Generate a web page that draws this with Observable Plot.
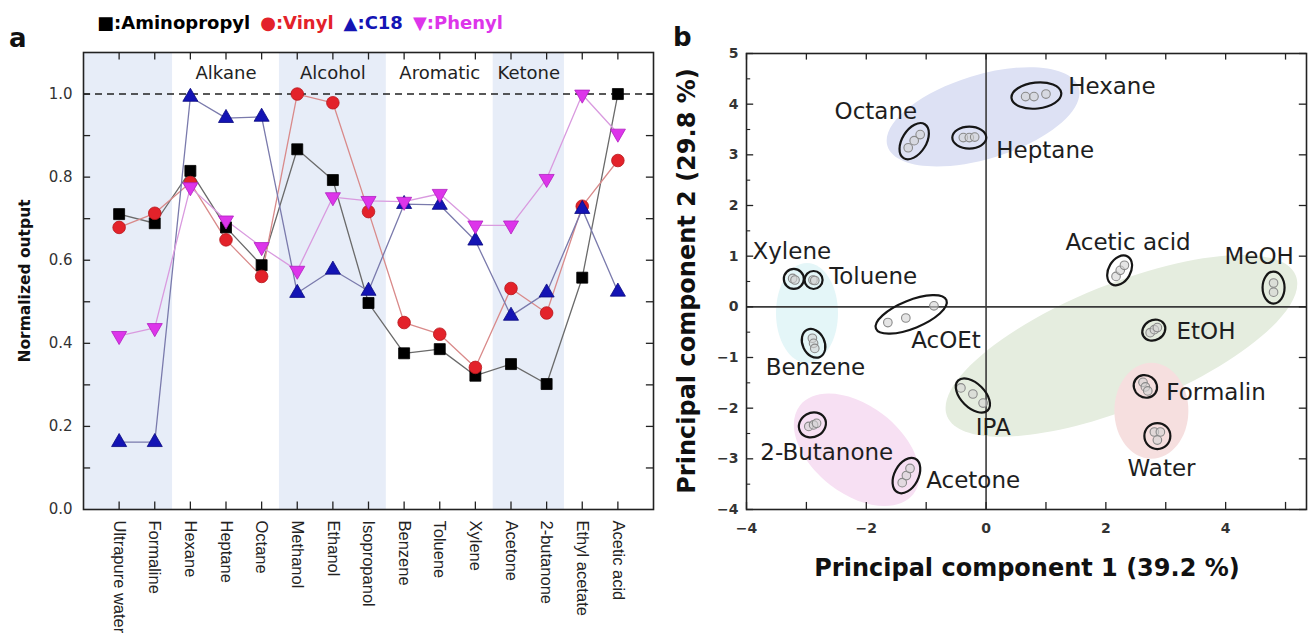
<!DOCTYPE html>
<html>
<head>
<meta charset="utf-8">
<script src="https://cdn.jsdelivr.net/npm/d3@7"></script>
<script src="https://cdn.jsdelivr.net/npm/@observablehq/plot@0.6"></script>
<style>
  body { margin: 0; background: #fff; font-family: "DejaVu Sans", sans-serif; }
  #wrap { position: relative; width: 1308px; height: 643px; overflow: hidden; background: #fff; }
  .abs { position: absolute; white-space: nowrap; }
  .panel { position: absolute; top: 0; }
  .lbl { font-weight: bold; color: #111; line-height: 1; }
  .rot { transform: translate(-50%, -50%) rotate(-90deg); }
  #legend { left: 97px; top: 14px; font-size: 18px; font-weight: bold; line-height: 1; }
  #legend span { margin-right: 10px; }
</style>
</head>
<body>
<div id="wrap">
  <div id="panelA" class="panel" style="left:0"></div>
  <div id="panelB" class="panel" style="left:660px"></div>
  <div class="abs lbl" style="left:9px; top:25px; font-size:26px;">a</div>
  <div class="abs lbl" style="left:673px; top:24px; font-size:26px;">b</div>
  <div id="legend" class="abs"></div>
  <div class="abs lbl rot" style="left:26px; top:281px; font-size:15.5px;">Normalized output</div>
  <div class="abs lbl rot" style="left:687px; top:281px; font-size:24px;">Principal component 2 (29.8 %)</div>
  <div class="abs lbl" style="left:1027px; top:568px; font-size:24px; transform: translate(-50%, -50%);">Principal component 1 (39.2 %)</div>
</div>
<script>
// ---------------- Panel a data ----------------
const solvents = ["Ultrapure water","Formaline","Hexane","Heptane","Octane","Methanol","Ethanol","Isopropanol","Benzene","Toluene","Xylene","Acetone","2-butanone","Ethyl acetate","Acetic acid"];
const aminopropyl = [0.711,0.689,0.815,0.679,0.588,0.867,0.793,0.497,0.376,0.386,0.322,0.350,0.302,0.558,1.000];
const vinyl       = [0.679,0.713,0.787,0.649,0.561,1.000,0.979,0.717,0.450,0.422,0.342,0.532,0.473,0.730,0.840];
const c18         = [0.162,0.162,0.993,0.942,0.945,0.521,0.577,0.526,0.735,0.733,0.647,0.466,0.522,0.723,0.524];
const phenyl      = [0.418,0.437,0.776,0.696,0.632,0.575,0.752,0.743,0.741,0.760,0.684,0.684,0.796,0.999,0.905];
const seriesNames = ["Aminopropyl","Vinyl","C18","Phenyl"];
const groupNames  = ["", "Alkane", "Alcohol", "Aromatic", "Ketone", ""];
const groupStart  = [0, 2, 5, 8, 11, 13];
const groupEnd    = [1, 4, 7, 10, 12, 14];
const groupShaded = [true, false, true, false, true, false];
const yTicksA = [0, 0.2, 0.4, 0.6, 0.8, 1.0];
const yMinorA = [0.1,0.2,0.3,0.4,0.5,0.6,0.7,0.8,0.9,1.0];

// ---------------- Panel b data ----------------
const pcaNames = ["Hexane","Heptane","Octane","Xylene","Toluene","AcOEt","Benzene","2-Butanone","Acetone","IPA","EtOH","Formalin","Water","Acetic acid","MeOH"];
const pc1 = [0.84,-0.28,-1.20,-3.21,-2.88,-1.25,-2.88,-2.90,-1.33,-0.22,2.80,2.66,2.86,2.23,4.80];
const pc2 = [4.17,3.34,3.27,0.55,0.53,-0.15,-0.72,-2.33,-3.33,-1.75,-0.46,-1.57,-2.55,0.72,0.38];
// replicate measurements (small circles)
const repName = ["Hexane","Hexane","Hexane","Heptane","Heptane","Heptane","Octane","Octane","Octane","Xylene","Xylene","Toluene","Toluene","AcOEt","AcOEt","AcOEt","Benzene","Benzene","Benzene","2-Butanone","2-Butanone","2-Butanone","Acetone","Acetone","Acetone","IPA","IPA","IPA","EtOH","EtOH","EtOH","Formalin","Formalin","Formalin","Water","Water","Water","Acetic acid","Acetic acid","Acetic acid","MeOH","MeOH"];
const repPc1 = [0.66,0.80,1.00,-0.38,-0.28,-0.19,-1.30,-1.20,-1.10,-3.23,-3.19,-2.89,-2.86,-1.64,-1.34,-0.87,-2.90,-2.88,-2.86,-2.96,-2.88,-2.83,-1.40,-1.33,-1.27,-0.42,-0.22,-0.05,2.74,2.81,2.86,2.62,2.66,2.70,2.81,2.91,2.86,2.17,2.24,2.31,4.80,4.80];
const repPc2 = [4.15,4.15,4.20,3.34,3.34,3.35,3.14,3.28,3.40,0.56,0.53,0.53,0.52,-0.31,-0.22,0.02,-0.62,-0.72,-0.82,-2.36,-2.33,-2.30,-3.47,-3.33,-3.19,-1.60,-1.72,-1.90,-0.51,-0.45,-0.41,-1.49,-1.58,-1.66,-2.47,-2.47,-2.63,0.60,0.72,0.82,0.47,0.29];
// label anchor points
const labelPc1 = [1.37,0.17,-1.84,-3.90,-2.62,-1.25,-3.68,-3.77,-1.00,0.12,3.18,3.01,2.93,2.37,3.98];
const labelPc2 = [4.35,3.08,3.86,1.09,0.60,-0.67,-1.20,-2.87,-3.43,-2.39,-0.49,-1.69,-3.20,1.26,1.00];
const labelAnchor = ["start","start","middle","start","start","start","start","start","start","middle","start","start","middle","middle","start"];
// cluster regions
const regionName = ["Alkane","Aromatic","Alcohol/acid","Ketone","Aqueous"];
const regionPc1 = [-0.05,-2.99,2.26,-2.16,2.76];
const regionPc2 = [3.75,-0.12,-0.77,-2.82,-2.05];

// ---------------- Styles ----------------
const markerColor = {Aminopropyl: "#000000", Vinyl: "#e3222a", C18: "#1414b4", Phenyl: "#dd35ea"};
const markerStroke = {Aminopropyl: "#000000", Vinyl: "#b8161c", C18: "#0a0a80", Phenyl: "#b020c0"};
const lineColor = {Aminopropyl: "#6a6a6a", Vinyl: "#d98a8a", C18: "#7a7aac", Phenyl: "#d99adf"};
const legendText = {Aminopropyl: "#000", Vinyl: "#e3222a", C18: "#1414b4", Phenyl: "#dd35ea"};
const legendGlyph = {Aminopropyl: "■", Vinyl: "●", C18: "▲", Phenyl: "▼"};
const regionStyle = [
  {fill: "#dde1f4", rx: 100, ry: 42, angle: -17},
  {fill: "#e4f6f8", rx: 31, ry: 50, angle: 0},
  {fill: "#e5eddf", rx: 188, ry: 62, angle: -22},
  {fill: "#f7e0f3", rx: 72, ry: 44, angle: 38},
  {fill: "#f6dfdf", rx: 37, ry: 48, angle: 0}
];
const outlineStyle = {
  "Hexane": {rx: 25, ry: 13, angle: -6},
  "Heptane": {rx: 17, ry: 11, angle: 0},
  "Octane": {rx: 20, ry: 12, angle: -58},
  "Xylene": {rx: 10, ry: 10, angle: 0},
  "Toluene": {rx: 9, ry: 9, angle: 0},
  "AcOEt": {rx: 38, ry: 14, angle: -22},
  "Benzene": {rx: 15, ry: 11, angle: 65},
  "2-Butanone": {rx: 14, ry: 12, angle: -30},
  "Acetone": {rx: 19, ry: 12, angle: -62},
  "IPA": {rx: 21, ry: 12, angle: 45},
  "EtOH": {rx: 12, ry: 10, angle: -30},
  "Formalin": {rx: 12, ry: 11, angle: 35},
  "Water": {rx: 13, ry: 13, angle: 0},
  "Acetic acid": {rx: 16, ry: 11, angle: -60},
  "MeOH": {rx: 16, ry: 11, angle: 90}
};

// ---------------- Legend ----------------
const legend = document.getElementById("legend");
seriesNames.forEach(s => {
  const sp = document.createElement("span");
  sp.style.color = legendText[s];
  const g = document.createElement("span");
  g.textContent = legendGlyph[s];
  g.style.color = markerColor[s];
  g.style.marginRight = "0";
  sp.appendChild(g);
  sp.appendChild(document.createTextNode(":" + s));
  legend.appendChild(sp);
});

// ---------------- Panel a ----------------
const idx = solvents.map((_, i) => i);
const seriesValues = {Aminopropyl: aminopropyl, Vinyl: vinyl, C18: c18, Phenyl: phenyl};
const groups = groupNames.map((name, i) => ({name, start: groupStart[i], end: groupEnd[i], shaded: groupShaded[i]}));
const symbolOf = {Aminopropyl: "square", Vinyl: "circle", C18: "triangle", Phenyl: "triangle"};
const rOf = {Aminopropyl: 6.2, Vinyl: 6.3, C18: 5.6, Phenyl: 5.6};

const seriesMarks = [];
seriesNames.forEach(s => {
  const data = idx.map(i => ({i, v: seriesValues[s][i]}));
  seriesMarks.push(Plot.line(data, {x: "i", y: "v", stroke: lineColor[s], strokeWidth: 1.3}));
});
seriesNames.forEach(s => {
  const data = idx.map(i => ({i, v: seriesValues[s][i]}));
  seriesMarks.push(Plot.dot(data, {
    x: "i", y: "v", symbol: symbolOf[s], r: rOf[s],
    fill: markerColor[s], stroke: markerStroke[s], strokeWidth: 0.8,
    rotate: s === "Phenyl" ? 180 : 0
  }));
});

const plotA = Plot.plot({
  width: 660, height: 643,
  marginLeft: 83, marginRight: 7, marginTop: 52, marginBottom: 134,
  x: {domain: [-1, 15]},
  y: {domain: [0, 1.1]},
  style: {fontFamily: "DejaVu Sans", background: "transparent", overflow: "visible"},
  marks: [
    Plot.rect(groups.filter(g => g.shaded), {
      x1: g => g.start === 0 ? -1 : g.start - 0.5,
      x2: g => g.end === solvents.length - 1 ? solvents.length : g.end + 0.5,
      y1: 0, y2: 1.1, fill: "#e7edf8"
    }),
    Plot.text(groups.filter(g => g.name), {
      x: g => (g.start + g.end) / 2, y: 1.05, text: "name",
      fontSize: 18, fill: "#222"
    }),
    Plot.ruleY([1], {stroke: "#222", strokeWidth: 1.6, strokeDasharray: "7,5"}),
    ...seriesMarks,
    // inward ticks
    Plot.ruleX(idx, {x: d => d, y1: 0, y2: 0.018, stroke: "#222", strokeWidth: 1.3}),
    Plot.ruleX(idx, {x: d => d, y1: 1.1, y2: 1.082, stroke: "#222", strokeWidth: 1.3}),
    Plot.ruleY(yMinorA, {y: d => d, x1: -1, x2: -0.8, stroke: "#222", strokeWidth: 1.3}),
    Plot.ruleY(yMinorA, {y: d => d, x1: 15, x2: 14.8, stroke: "#222", strokeWidth: 1.3}),
    Plot.frame({stroke: "#222", strokeWidth: 1.6}),
    Plot.axisY({ticks: yTicksA, tickSize: 0, tickPadding: 11, tickFormat: d3.format(".1f"), fontSize: 15, fill: "#333", label: null}),
    Plot.axisX({ticks: idx, tickSize: 0, tickPadding: 11, tickRotate: 90, tickFormat: i => solvents[i], fontSize: 16.5, fontFamily: "Liberation Sans", fill: "#222", label: null})
  ]
});
document.getElementById("panelA").appendChild(plotA);

// ---------------- Panel b ----------------
function ellipseSymbol(aspect) {
  return {
    draw(ctx, size) {
      const rx = Math.sqrt(size / Math.PI), ry = rx * aspect, k = 0.5522847;
      ctx.moveTo(rx, 0);
      ctx.bezierCurveTo(rx, ry * k, rx * k, ry, 0, ry);
      ctx.bezierCurveTo(-rx * k, ry, -rx, ry * k, -rx, 0);
      ctx.bezierCurveTo(-rx, -ry * k, -rx * k, -ry, 0, -ry);
      ctx.bezierCurveTo(rx * k, -ry, rx, -ry * k, rx, 0);
      ctx.closePath();
    }
  };
}

const regionMarks = regionName.map((name, i) => {
  const st = regionStyle[i];
  return Plot.dot([{x: regionPc1[i], y: regionPc2[i]}], {
    x: "x", y: "y", r: st.rx, rotate: st.angle, symbol: ellipseSymbol(st.ry / st.rx),
    fill: st.fill, stroke: "none"
  });
});
const outlineMarks = pcaNames.map((name, i) => {
  const st = outlineStyle[name];
  return Plot.dot([{x: pc1[i], y: pc2[i]}], {
    x: "x", y: "y", r: st.rx, rotate: st.angle, symbol: ellipseSymbol(st.ry / st.rx),
    fill: "none", stroke: "#161616", strokeWidth: 2.2
  });
});
const reps = repName.map((n, i) => ({n, x: repPc1[i], y: repPc2[i]}));
const labels = pcaNames.map((n, i) => ({n, x: labelPc1[i], y: labelPc2[i], a: labelAnchor[i]}));
const xIntB = [-4,-3,-2,-1,0,1,2,3,4,5];
const yIntB = [-4,-3,-2,-1,0,1,2,3,4,5];
const yHalfB = [-3.5,-2.5,-1.5,-0.5,0.5,1.5,2.5,3.5,4.5];

const plotB = Plot.plot({
  width: 648, height: 643,
  marginLeft: 86, marginRight: 2, marginTop: 53, marginBottom: 134,
  x: {domain: [-4, 5.35]},
  y: {domain: [-4, 5]},
  style: {fontFamily: "DejaVu Sans", background: "transparent", overflow: "visible"},
  marks: [
    ...regionMarks,
    Plot.ruleX([0], {stroke: "#3a3a3a", strokeWidth: 1.6}),
    Plot.ruleY([0], {stroke: "#3a3a3a", strokeWidth: 1.6}),
    Plot.dot(reps, {x: "x", y: "y", r: 4.3, fill: "#d4d4d4", fillOpacity: 0.6, stroke: "#8a8a8a", strokeWidth: 1.1}),
    ...outlineMarks,
    ...["start", "middle"].map(a => Plot.text(labels.filter(d => d.a === a), {
      x: "x", y: "y", text: "n", textAnchor: a, fontSize: 23, fill: "#1e1e1e"
    })),
    // inward ticks
    Plot.ruleX(xIntB, {x: d => d, y1: -4, y2: -3.86, stroke: "#222", strokeWidth: 1.3}),
    Plot.ruleX(xIntB, {x: d => d, y1: 5, y2: 4.87, stroke: "#222", strokeWidth: 1.3}),
    Plot.ruleY(yIntB, {y: d => d, x1: -4, x2: -3.88, stroke: "#222", strokeWidth: 1.3}),
    Plot.ruleY(yHalfB, {y: d => d, x1: -4, x2: -3.93, stroke: "#222", strokeWidth: 1.1}),
    Plot.ruleY(yIntB, {y: d => d, x1: 5.35, x2: 5.23, stroke: "#222", strokeWidth: 1.3}),
    Plot.frame({stroke: "#222", strokeWidth: 1.6}),
    Plot.axisX({ticks: [-4, -2, 0, 2, 4], tickSize: 0, tickPadding: 14, fontSize: 14, fontWeight: "bold", fill: "#333", label: null}),
    Plot.axisY({ticks: yIntB, tickSize: 0, tickPadding: 8, fontSize: 14, fontWeight: "bold", fill: "#333", label: null})
  ]
});
document.getElementById("panelB").appendChild(plotB);
</script>
</body>
</html>
